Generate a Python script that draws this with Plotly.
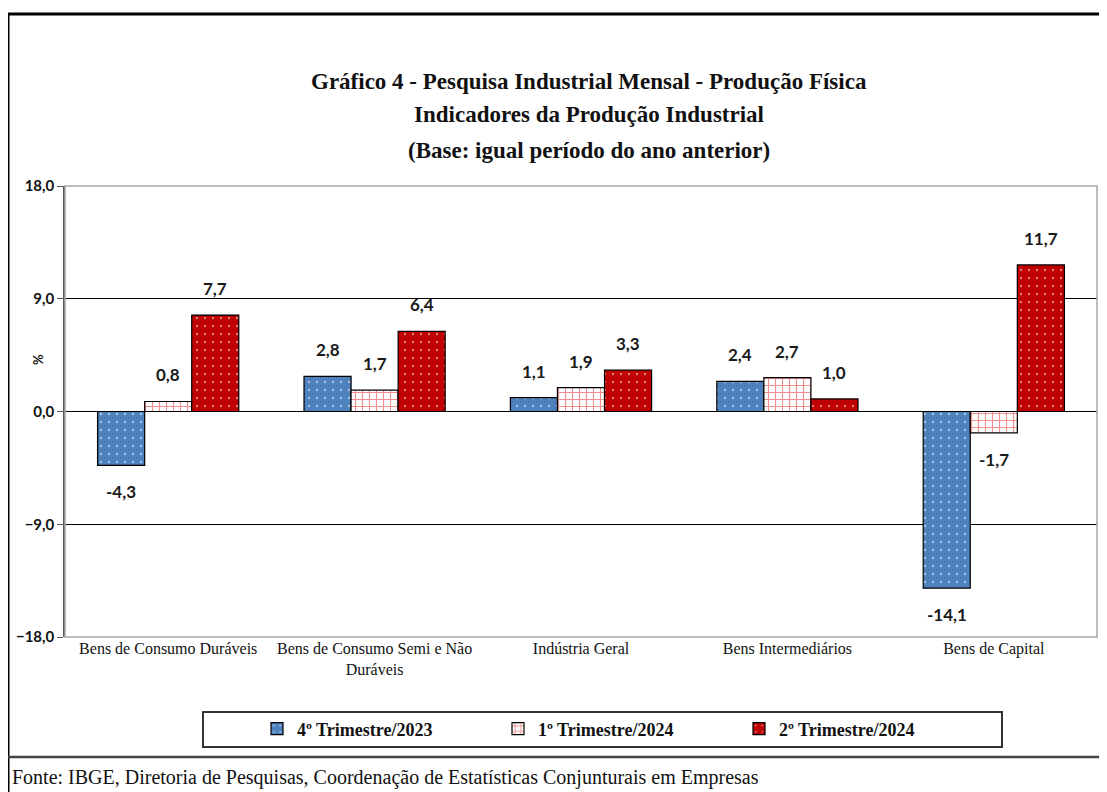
import plotly.graph_objects as go

categories = ["Bens de Consumo Duráveis", "Bens de Consumo Semi e Não<br>Duráveis",
              "Indústria Geral", "Bens Intermediários", "Bens de Capital"]
series_names = ["4º Trimestre/2023", "1º Trimestre/2024", "2º Trimestre/2024"]
q4_2023 = [-4.3, 2.8, 1.1, 2.4, -14.1]
q1_2024 = [0.8, 1.7, 1.9, 2.7, -1.7]
q2_2024 = [7.7, 6.4, 3.3, 1.0, 11.7]
y_ticks = [-18, -9, 0, 9, 18]
title_lines = ["Gráfico 4 - Pesquisa Industrial Mensal - Produção Física",
               "Indicadores da Produção Industrial",
               "(Base: igual período do ano anterior)"]
y_title = "%"
source_text = "Fonte: IBGE, Diretoria de Pesquisas, Coordenação de Estatísticas Conjunturais em Empresas"

# page body adds an 8px offset; figure is sized to fit the window
OFF = 8
W, H = 1107 - OFF, 792 - OFF
ML, MR, MT, MB = 65 - OFF, 10, 186 - OFF, 155
PW, PH = W - ML - MR, H - MT - MB


def px(x):
    # x in window pixels -> paper fraction
    return (x - OFF - ML) / PW


def py(y):
    # y in window pixels -> paper fraction
    return (H - MB - (y - OFF)) / PH


series = [q4_2023, q1_2024, q2_2024]
styles = [
    dict(color="#4F81BD", pattern=dict(shape=".", fgcolor="white", size=8, solidity=0.07, fillmode="overlay")),
    dict(color="white", pattern=dict(shape="+", fgcolor="#E0201E", size=7, solidity=0.3, fillmode="overlay")),
    dict(color="#C00000", pattern=dict(shape=".", fgcolor="white", size=8, solidity=0.07, fillmode="overlay")),
]
bar_w = 0.228
offsets = [-0.342, -0.114, 0.114]
xs = list(range(len(categories)))

label_font = dict(family="Lato", size=17, color="#1a1a1a")
serif = "Liberation Serif"

fig = go.Figure()
annotations = []
for k, (name, vals, st) in enumerate(zip(series_names, series, styles)):
    fig.add_trace(go.Bar(
        x=xs, y=vals, name=name, width=bar_w, offset=offsets[k],
        marker=dict(color=st["color"], pattern=st["pattern"], line=dict(color="black", width=1.2)),
    ))
    for i, v in enumerate(vals):
        annotations.append(dict(
            x=i + offsets[k] + bar_w / 2, y=v, xref="x", yref="y",
            text="<b>" + f"{v:.1f}".replace(".", ",") + "</b>",
            showarrow=False, font=label_font,
            yanchor="bottom" if v >= 0 else "top",
            yshift=14 if v >= 0 else -14,
        ))

title_y = [82, 115, 150]
for t, yy in zip(title_lines, title_y):
    annotations.append(dict(
        x=px(589), y=py(yy), xref="paper", yref="paper", text="<b>" + t + "</b>",
        showarrow=False, font=dict(family=serif, size=23, color="#111"),
        xanchor="center", yanchor="middle",
    ))

annotations.append(dict(
    x=px(38), y=py(360), xref="paper", yref="paper", text="<b>" + y_title + "</b>",
    showarrow=False, font=dict(family="Lato", size=13, color="#111"),
    textangle=-90, xanchor="center", yanchor="middle",
))

annotations.append(dict(
    x=px(10), y=py(777), xref="paper", yref="paper", text=source_text,
    showarrow=False, font=dict(family=serif, size=20, color="#111"),
    xanchor="left", yanchor="middle",
))

shapes = [
    # plot area border
    dict(type="rect", xref="paper", yref="paper", x0=0, x1=1, y0=0, y1=1,
         line=dict(color="#A6A6A6", width=1.5), layer="above"),
    # legend box
    dict(type="rect", xref="paper", yref="paper", x0=px(203), x1=px(1002), y0=py(747), y1=py(712),
         line=dict(color="#333", width=2)),
    # outer frame
    dict(type="line", xref="paper", yref="paper", x0=px(8), x1=px(1110), y0=py(14), y1=py(14),
         line=dict(color="black", width=3)),
    dict(type="line", xref="paper", yref="paper", x0=px(8), x1=px(8), y0=py(14), y1=py(800),
         line=dict(color="black", width=3)),
    dict(type="line", xref="paper", yref="paper", x0=px(8), x1=px(1110), y0=py(757), y1=py(757),
         line=dict(color="#444", width=2.5)),
]

fig.update_layout(
    width=W, height=H,
    margin=dict(l=ML, r=MR, t=MT, b=MB, autoexpand=False),
    paper_bgcolor="white", plot_bgcolor="white",
    barmode="overlay",
    separators=",.",
    showlegend=True,
    legend=dict(
        orientation="h", x=px(257), y=py(729), xanchor="left", yanchor="middle",
        font=dict(family=serif, size=18, color="#111", weight="bold"),
        entrywidth=196, entrywidthmode="pixels", itemwidth=30,
        bgcolor="rgba(0,0,0,0)", traceorder="normal",
    ),
    xaxis=dict(
        range=[-0.5, 4.5], tickvals=xs, ticktext=categories, showgrid=False,
        zeroline=False, showline=False, ticks="", automargin=False,
        tickfont=dict(family=serif, size=16, color="#111"),
    ),
    yaxis=dict(
        range=[-18, 18], tickvals=y_ticks, tickformat=".1f", automargin=False,
        showgrid=True, gridcolor="black", gridwidth=1,
        zeroline=True, zerolinecolor="black", zerolinewidth=1,
        showline=True, linecolor="#595959", linewidth=1.5,
        ticks="outside", ticklen=6, tickcolor="#595959",
        tickfont=dict(family="Lato", size=15, color="#111", weight="bold"),
    ),
    annotations=annotations,
    shapes=shapes,
)

fig.write_html("out.html")
